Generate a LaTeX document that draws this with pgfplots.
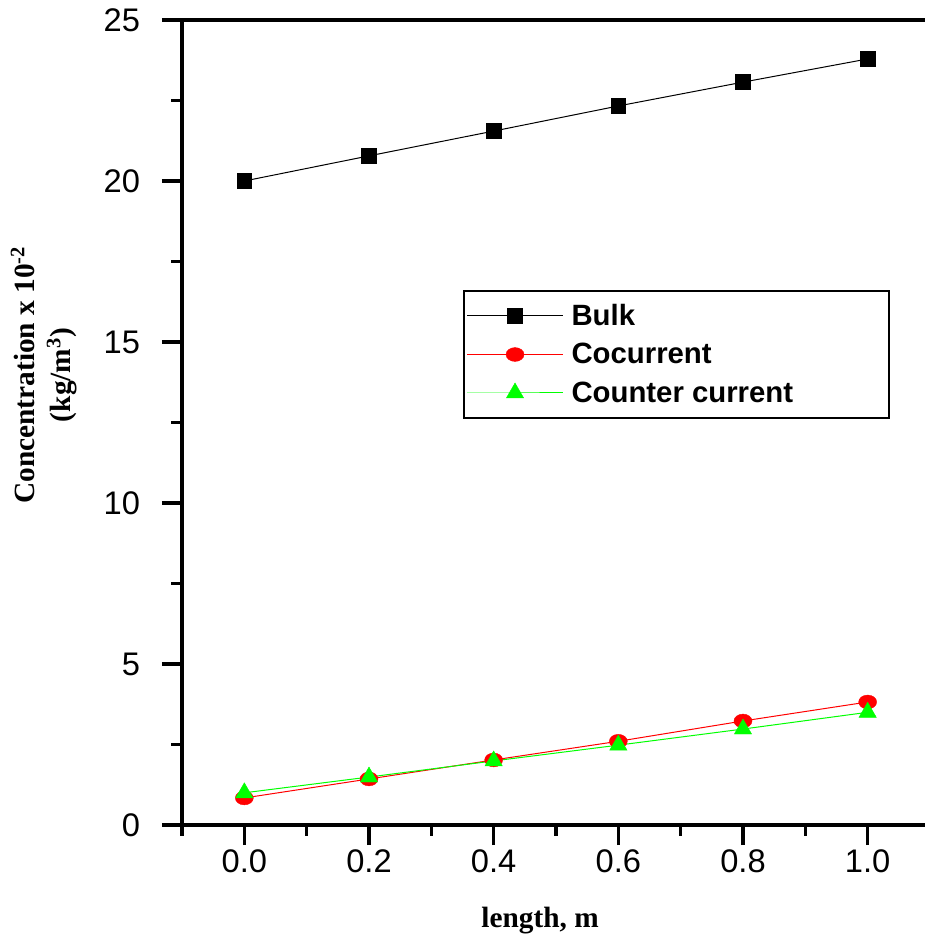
\documentclass[border=0pt]{standalone}
\usepackage{fontspec}
\setmainfont{Liberation Sans}
\newfontfamily\timesfont{Liberation Serif}
\usepackage{pgfplots}
\pgfplotsset{compat=1.18}

\definecolor{pureRed}{RGB}{255,0,0}
\definecolor{pureGreen}{RGB}{0,255,0}

\begin{document}
\begin{tikzpicture}
\begin{axis}[
    scale only axis,
    width=557.25pt, height=603.75pt,
    xmin=-0.1, xmax=1.092,
    ymin=0, ymax=25,
    axis x line=box, axis y line=left,
    x axis line style={-}, y axis line style={-},
    axis line style={line width=2.5pt},
    xtick pos=left,
    xtick={0,0.2,0.4,0.6,0.8,1.0},
    minor xtick={-0.1,0.1,0.3,0.5,0.7,0.9},
    ytick={0,5,10,15,20,25},
    minor ytick={2.5,7.5,12.5,17.5,22.5},
    xticklabel style={/pgf/number format/.cd, fixed, fixed zerofill, precision=1},
    yticklabel style={xshift=-13pt},
    /pgf/number format/assume math mode=true,
    tick label style={font=\fontsize{24.5}{28}\selectfont},
    tick align=outside,
    major tick length=15pt, minor tick length=8pt,
    every tick/.style={line width=2.5pt, black},
    xlabel={\timesfont\bfseries length, m},
    xlabel style={at={(axis description cs:0.482,-0.119)}, anchor=center, font=\fontsize{22}{26}\selectfont},
    ylabel={\timesfont\bfseries Concentration x 10\textsuperscript{-2}\\\timesfont\bfseries (kg/m\textsuperscript{3})},
    ylabel style={at={(axis description cs:-0.135,0.559)}, anchor=south, rotate=0, align=center, font=\fontsize{22}{27}\selectfont},
    legend style={at={(axis description cs:0.378,0.665)}, anchor=north west,
        draw=black, line width=1.5pt, inner xsep=2pt, inner ysep=8pt, row sep=8pt,
        font=\fontsize{22}{25}\selectfont\bfseries},
    legend cell align=left,
    legend image code/.code={\draw[mark repeat=2,mark phase=2,line width=0.75pt] plot coordinates {(0pt,0pt) (36pt,0pt) (72pt,0pt)};},
]

\addplot[black, line width=0.75pt, mark=square*, mark size=5.5pt, mark options={solid, line width=0.5pt}] coordinates {
    (0.0, 20.0)
    (0.2, 20.78)
    (0.4, 21.55)
    (0.6, 22.33)
    (0.8, 23.07)
    (1.0, 23.79)
};
\addlegendentry{\makebox[238pt][l]{\hspace{4pt}Bulk}}

\addplot[pureRed, line width=0.75pt, mark=*, mark size=5.2pt, mark options={solid, xscale=1.3, line width=0.3pt}] coordinates {
    (0.0, 0.84)
    (0.2, 1.43)
    (0.4, 2.02)
    (0.6, 2.60)
    (0.8, 3.23)
    (1.0, 3.82)
};
\addlegendentry{\makebox[238pt][l]{\hspace{4pt}Cocurrent}}

\addplot[pureGreen, line width=0.75pt, mark=triangle*, mark size=7.5pt, mark options={solid, line width=0.3pt}] coordinates {
    (0.0, 1.00)
    (0.2, 1.49)
    (0.4, 1.99)
    (0.6, 2.48)
    (0.8, 2.98)
    (1.0, 3.50)
};
\addlegendentry{\makebox[238pt][l]{\hspace{4pt}Counter current}}

\end{axis}
\pgfresetboundingbox
\useasboundingbox ([xshift=-136.5pt,yshift=-83.25pt]current axis.south west) rectangle ([yshift=15pt]current axis.north east);
\end{tikzpicture}
\end{document}
